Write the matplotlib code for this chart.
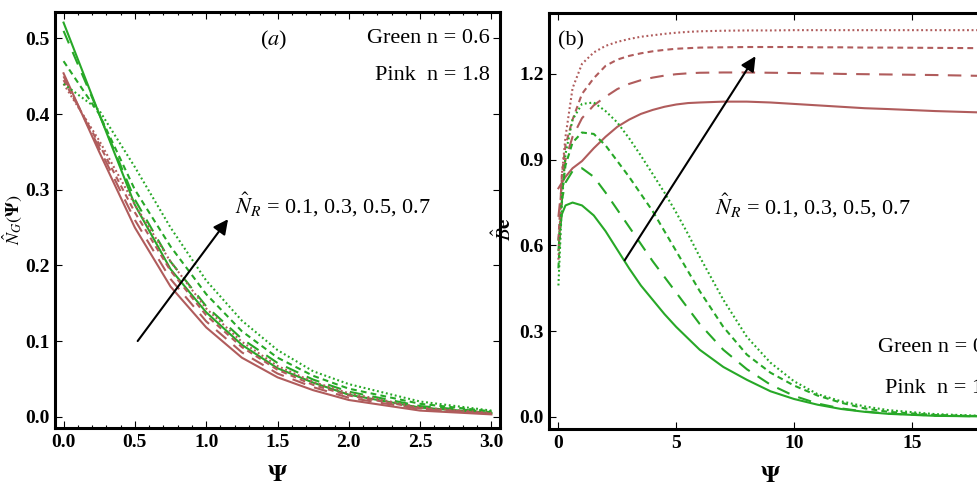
import numpy as np
import matplotlib
matplotlib.use("Agg")
from matplotlib import pyplot as plt
from matplotlib.ticker import MultipleLocator, AutoMinorLocator

plt.rcParams['font.family'] = ['Liberation Serif', 'DejaVu Serif']
plt.rcParams['mathtext.fontset'] = 'stix'

# panel (a): entropy generation vs psi
psi_a = [0.0, 0.25, 0.5, 0.75, 1.0, 1.25, 1.5, 1.75, 2.0, 2.5, 3.0]
ng_green = {
    0.1: [0.521, 0.40, 0.28, 0.195, 0.138, 0.095, 0.064, 0.045, 0.029, 0.012, 0.005],
    0.3: [0.51, 0.40, 0.287, 0.205, 0.146, 0.103, 0.071, 0.049, 0.033, 0.014, 0.006],
    0.5: [0.47, 0.40, 0.30, 0.225, 0.162, 0.113, 0.078, 0.054, 0.037, 0.017, 0.007],
    0.7: [0.44, 0.405, 0.33, 0.25, 0.18, 0.127, 0.088, 0.06, 0.043, 0.02, 0.008],
}
ng_pink = {
    0.1: [0.454, 0.35, 0.25, 0.172, 0.118, 0.078, 0.052, 0.035, 0.022, 0.008, 0.003],
    0.3: [0.45, 0.355, 0.26, 0.182, 0.126, 0.085, 0.057, 0.039, 0.025, 0.010, 0.004],
    0.5: [0.445, 0.36, 0.27, 0.193, 0.134, 0.092, 0.062, 0.042, 0.028, 0.011, 0.004],
    0.7: [0.44, 0.365, 0.28, 0.205, 0.143, 0.099, 0.067, 0.046, 0.031, 0.012, 0.005],
}

# panel (b): Bejan number vs psi
psi_b = [0.0, 0.15, 0.3, 0.6, 1.0, 1.5, 2.0, 2.5, 3.0, 3.5, 4.0, 4.5, 5.0, 5.5,
         6.0, 7.0, 8.0, 9.0, 10.0, 11.0, 12.0, 13.0, 14.0, 16.0, 18.0, 20.0]
be_green = {
    0.1: [0.62, 0.71, 0.74, 0.75, 0.74, 0.705, 0.65, 0.585, 0.52, 0.46, 0.41, 0.36, 0.315, 0.275,
          0.235, 0.175, 0.13, 0.09, 0.063, 0.043, 0.028, 0.018, 0.011, 0.004, 0.002, 0.001],
    0.3: [0.58, 0.76, 0.82, 0.86, 0.87, 0.84, 0.785, 0.725, 0.665, 0.605, 0.545, 0.49, 0.435, 0.38,
          0.325, 0.235, 0.167, 0.113, 0.074, 0.047, 0.03, 0.019, 0.012, 0.005, 0.002, 0.001],
    0.5: [0.52, 0.78, 0.88, 0.96, 0.995, 0.99, 0.95, 0.895, 0.84, 0.78, 0.72, 0.65, 0.58, 0.51,
          0.44, 0.315, 0.218, 0.155, 0.11, 0.075, 0.05, 0.03, 0.018, 0.007, 0.003, 0.001],
    0.7: [0.46, 0.75, 0.92, 1.04, 1.095, 1.10, 1.07, 1.03, 0.975, 0.914, 0.85, 0.785, 0.715, 0.64,
          0.56, 0.41, 0.28, 0.19, 0.125, 0.08, 0.055, 0.037, 0.024, 0.01, 0.004, 0.002],
}
be_pink = {
    0.1: [0.80, 0.82, 0.84, 0.87, 0.895, 0.94, 0.98, 1.015, 1.04, 1.06, 1.074, 1.085, 1.093, 1.098,
          1.10, 1.103, 1.103, 1.10, 1.095, 1.09, 1.085, 1.08, 1.077, 1.07, 1.065, 1.06],
    0.3: [0.70, 0.82, 0.90, 0.98, 1.045, 1.09, 1.12, 1.147, 1.165, 1.178, 1.187, 1.194, 1.199, 1.202,
          1.204, 1.205, 1.205, 1.204, 1.203, 1.202, 1.20, 1.199, 1.198, 1.196, 1.193, 1.19],
    0.5: [0.62, 0.85, 0.95, 1.04, 1.13, 1.185, 1.228, 1.25, 1.263, 1.272, 1.279, 1.284, 1.288, 1.29,
          1.292, 1.293, 1.294, 1.294, 1.294, 1.293, 1.293, 1.292, 1.292, 1.291, 1.29, 1.29],
    0.7: [0.55, 0.85, 0.98, 1.15, 1.235, 1.275, 1.298, 1.312, 1.322, 1.33, 1.335, 1.34, 1.344, 1.347,
          1.349, 1.351, 1.352, 1.352, 1.353, 1.353, 1.353, 1.353, 1.353, 1.353, 1.353, 1.353],
}

green = '#27a827'
pink = '#b05c5c'
styles = {0.1: '-', 0.3: (0, (6.5, 4.5)), 0.5: (0, (2.8, 2.0)), 0.7: (0, (0.9, 1.3))}

fig = plt.figure(figsize=(9.77, 4.91), dpi=100)
ax1 = fig.add_axes([55/977, 1-428/491, 445/977, 416/491])
ax2 = fig.add_axes([549/977, 1-429/491, 490/977, 416/491])

for nr in [0.1, 0.3, 0.5, 0.7]:
    ax1.plot(psi_a, ng_pink[nr], color=pink, ls=styles[nr], lw=1.5)
    ax1.plot(psi_a, ng_green[nr], color=green, ls=styles[nr], lw=1.5)
    ax2.plot(psi_b, be_pink[nr], color=pink, ls=styles[nr], lw=1.5)
    ax2.plot(psi_b, be_green[nr], color=green, ls=styles[nr], lw=1.5)

ax1.set_xlim(-0.06, 3.06)
ax1.set_ylim(-0.015, 0.535)
ax1.xaxis.set_major_locator(MultipleLocator(0.5))
ax1.xaxis.set_minor_locator(AutoMinorLocator(5))
ax1.yaxis.set_major_locator(MultipleLocator(0.1))
ax1.xaxis.set_major_formatter(plt.FormatStrFormatter('%.1f'))
ax1.yaxis.set_major_formatter(plt.FormatStrFormatter('%.1f'))

ax2.set_xlim(-0.4, 20.4)
ax2.set_ylim(-0.042, 1.413)
ax2.set_xticks([0, 5, 10, 15])
ax2.yaxis.set_major_locator(MultipleLocator(0.3))
ax2.yaxis.set_major_formatter(plt.FormatStrFormatter('%.1f'))

for ax in (ax1, ax2):
    for sp in ax.spines.values():
        sp.set_linewidth(2.2)
    ax.tick_params(which='both', direction='in', top=True, right=True, width=0.8)
    ax.tick_params(which='major', length=5, labelsize=14, pad=4)
    ax.tick_params(which='minor', length=2.5)
    for lab in ax.get_xticklabels() + ax.get_yticklabels():
        lab.set_fontweight('bold')

ax1.set_xlabel(r'$\mathbf{\Psi}$', fontsize=17)
ax1.set_ylabel(r'$\hat{N}_G(\mathbf{\Psi})$', fontsize=13)
ax1.xaxis.set_label_coords(0.5, -0.09)
ax1.yaxis.set_label_coords(-0.07, 0.5)
ax2.set_xlabel(r'$\mathbf{\Psi}$', fontsize=17)
ax2.set_ylabel(r'$\hat{B}\mathbf{e}$', fontsize=15)
ax2.xaxis.set_label_coords(0.452, -0.09)
ax2.yaxis.set_label_coords(-0.068, 0.48)

ax1.text(1.475, 0.497, r'($a$)', fontsize=16, ha='center', va='center')
ax1.text(2.99, 0.50, 'Green n = 0.6', fontsize=16, ha='right', va='center')
ax1.text(2.99, 0.451, 'Pink  n = 1.8', fontsize=16, ha='right', va='center')
ax1.text(1.2, 0.28, r'$\hat{N}_R$ = 0.1, 0.3, 0.5, 0.7', fontsize=16, ha='left', va='center')
ax1.annotate('', xy=(1.165, 0.264), xytext=(0.508, 0.097),
             arrowprops=dict(arrowstyle='-|>', color='black', lw=1.5, mutation_scale=22))

ax2.text(0.0, 1.315, '(b)', fontsize=16, ha='left', va='center')
ax2.text(6.65, 0.74, r'$\hat{N}_R$ = 0.1, 0.3, 0.5, 0.7', fontsize=16, ha='left', va='center')
ax2.text(13.56, 0.244, 'Green n = 0.6', fontsize=16, ha='left', va='center')
ax2.text(13.86, 0.101, 'Pink  n = 1.8', fontsize=16, ha='left', va='center')
ax2.annotate('', xy=(8.43, 1.27), xytext=(2.75, 0.54),
             arrowprops=dict(arrowstyle='-|>', color='black', lw=1.5, mutation_scale=22))

fig.savefig('out.png', dpi=100)
